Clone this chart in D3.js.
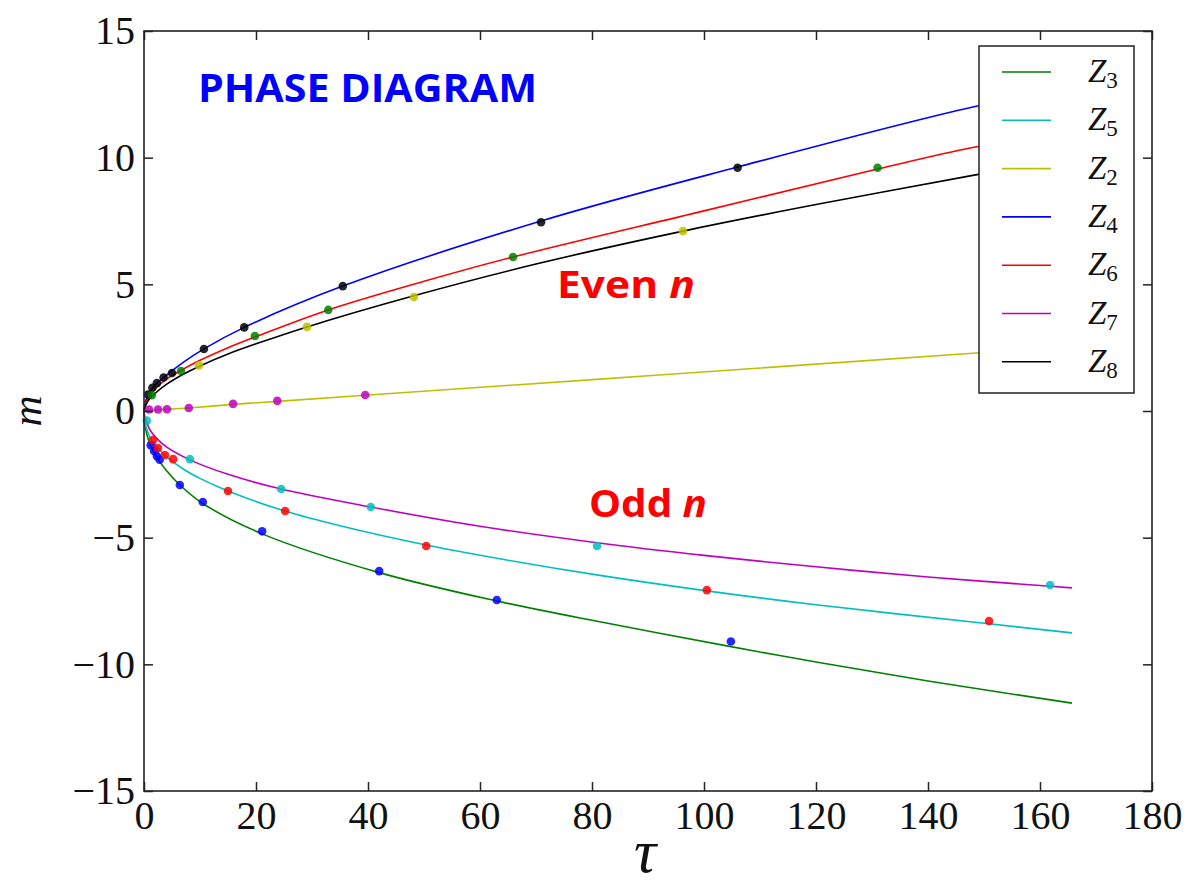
<!DOCTYPE html>
<html>
<head>
<meta charset="utf-8">
<script src="https://cdn.jsdelivr.net/npm/d3@7"></script>
<style>
  body { margin: 0; background: #fff; }
  svg { display: block; }
</style>
</head>
<body>
<div id="chart"></div>
<script>
// legend order and colours (matplotlib classic cycle)
const seriesNames = ['Z3', 'Z5', 'Z2', 'Z4', 'Z6', 'Z7', 'Z8'];
const lineColors = ['#008000', '#00bfbf', '#bfbf00', '#0000ff', '#ff0000', '#bf00bf', '#000000'];
// markers on each curve are drawn in a different colour than the curve
const dotColors = ['#0000ff', '#ff0000', '#bf00bf', '#000000', '#008000', '#00bfbf', '#bfbf00'];

// fitted curves: [tau, m]
const lineZ3 = [[0,0],[0.2,-0.6],[0.5,-0.92],[1,-1.27],[2,-1.73],[4,-2.35],[6.4,-2.92],[10.5,-3.65],[21.1,-4.85],[42,-6.38],[63,-7.5],[81.4,-8.32],[104.8,-9.3],[120,-9.91],[140,-10.66],[165.7,-11.53]];
const lineZ5 = [[0,0],[0.2,-0.45],[0.5,-0.72],[1,-1.0],[2,-1.34],[4,-1.8],[7,-2.29],[10,-2.66],[15,-3.16],[25.2,-3.95],[35,-4.53],[50.4,-5.29],[65,-5.89],[81.4,-6.49],[100.5,-7.1],[120,-7.65],[150.9,-8.4],[165.7,-8.76]];
const lineZ2 = [[0,0],[2,0.04],[8,0.12],[15.9,0.26],[23.8,0.38],[39.5,0.62],[81.4,1.26],[120,1.85],[148,2.28],[165.7,2.53]];
const lineZ4 = [[0,0],[0.3,0.4],[1,0.72],[2,1.02],[3.4,1.3],[5,1.58],[7,1.92],[10.7,2.45],[17.9,3.3],[35.5,4.93],[70.9,7.5],[106,9.63],[148,12.0],[165.7,12.75]];
const lineZ6 = [[0,0],[0.3,0.3],[1,0.6],[2,0.88],[4,1.26],[6.6,1.6],[10,2.0],[15,2.5],[19.8,2.92],[32.9,3.99],[50,5.12],[65.9,6.08],[100,7.9],[131,9.55],[148,10.4],[165.7,11.05]];
const lineZ7 = [[0,0],[0.2,-0.3],[0.5,-0.45],[1,-0.72],[2,-1.02],[4,-1.42],[8.2,-1.93],[15,-2.5],[24.5,-3.08],[40.5,-3.79],[60,-4.55],[80.9,-5.2],[100,-5.7],[120,-6.15],[140,-6.55],[161.8,-6.92],[165.7,-6.98]];
const lineZ8 = [[0,0],[0.3,0.22],[1,0.48],[2,0.7],[4,1.05],[7,1.45],[10,1.78],[15,2.25],[20,2.65],[29.1,3.32],[48.2,4.55],[70,5.8],[96.25,7.1],[120,8.15],[148,9.3],[165.7,10.0]];

// data points (markers)
const dotsZ3 = [[1.2,-1.35],[1.8,-1.58],[2.3,-1.78],[2.8,-1.92],[6.4,-2.92],[10.5,-3.59],[21.1,-4.75],[42,-6.32],[63,-7.46],[104.8,-9.1]];
const dotsZ5 = [[1.6,-1.15],[2.5,-1.46],[3.75,-1.74],[5.2,-1.9],[15,-3.16],[25.2,-3.95],[50.4,-5.33],[100.5,-7.07],[150.9,-8.29]];
const dotsZ2 = [[0.9,0.06],[2.5,0.06],[4.1,0.07],[8,0.12],[15.9,0.28],[23.8,0.4],[39.5,0.63]];
const dotsZ4 = [[0.7,0.65],[1.5,0.92],[2.3,1.1],[3.5,1.32],[5,1.5],[10.7,2.45],[17.9,3.3],[35.5,4.93],[70.9,7.45],[106,9.6]];
const dotsZ6 = [[1.4,0.62],[6.6,1.58],[19.8,2.96],[32.9,3.99],[65.9,6.08],[131,9.6]];
const dotsZ7 = [[0.5,-0.38],[8.2,-1.9],[24.5,-3.08],[40.5,-3.79],[80.9,-5.33],[161.8,-6.87]];
const dotsZ8 = [[9.8,1.8],[29.1,3.32],[48.2,4.5],[96.25,7.1]];

const lines = [lineZ3, lineZ5, lineZ2, lineZ4, lineZ6, lineZ7, lineZ8];
const dots = [dotsZ3, dotsZ5, dotsZ2, dotsZ4, dotsZ6, dotsZ7, dotsZ8];

const xTicks = [0, 20, 40, 60, 80, 100, 120, 140, 160, 180];
const yTicks = [-15, -10, -5, 0, 5, 10, 15];

const W = 1191, H = 890;
const margin = { left: 144, right: 39, top: 31, bottom: 99 };
const iw = W - margin.left - margin.right;
const ih = H - margin.top - margin.bottom;

const svg = d3.select('#chart').append('svg')
  .attr('width', W).attr('height', H)
  .style('background', '#fff');

const g = svg.append('g').attr('transform', `translate(${margin.left},${margin.top})`);

const x = d3.scaleLinear().domain([0, 180]).range([0, iw]);
const y = d3.scaleLinear().domain([-15, 15]).range([ih, 0]);

const serif = '"Liberation Serif", "DejaVu Serif", serif';

// curves
const line = d3.line().x(d => x(d[0])).y(d => y(d[1])).curve(d3.curveCatmullRom.alpha(0.5));
g.selectAll('.curve')
  .data(lines)
  .join('path')
  .attr('class', 'curve')
  .attr('d', line)
  .attr('fill', 'none')
  .attr('stroke', (d, i) => lineColors[i])
  .attr('stroke-width', 1.6);

// markers
dots.forEach((pts, i) => {
  g.selectAll('.dot' + i)
    .data(pts)
    .join('circle')
    .attr('class', 'dot' + i)
    .attr('cx', d => x(d[0]))
    .attr('cy', d => y(d[1]))
    .attr('r', 4.3)
    .attr('fill', dotColors[i])
    .attr('fill-opacity', 0.85);
});

// axes: ticks inward on all four sides
const styleAxis = sel => {
  sel.select('.domain').remove();
  sel.selectAll('line').attr('stroke', '#222').attr('stroke-width', 1.5);
  sel.selectAll('text').attr('font-family', serif).attr('font-size', 40).attr('fill', '#111');
};
g.append('g').attr('transform', `translate(0,${ih})`)
  .call(d3.axisBottom(x).tickValues(xTicks).tickSizeInner(-9).tickSizeOuter(0).tickPadding(10))
  .call(styleAxis);
g.append('g')
  .call(d3.axisLeft(y).tickValues(yTicks).tickSizeInner(-9).tickSizeOuter(0).tickPadding(9))
  .call(styleAxis);
g.append('g')
  .call(d3.axisTop(x).tickValues(xTicks).tickSizeInner(-9).tickSizeOuter(0).tickFormat(''))
  .call(styleAxis);
g.append('g').attr('transform', `translate(${iw},0)`)
  .call(d3.axisRight(y).tickValues(yTicks).tickSizeInner(-9).tickSizeOuter(0).tickFormat(''))
  .call(styleAxis);

// frame
g.append('rect')
  .attr('width', iw).attr('height', ih)
  .attr('fill', 'none').attr('stroke', '#222').attr('stroke-width', 1.6);

// axis titles
svg.append('text')
  .attr('transform', `translate(41,${margin.top + y(0)}) rotate(-90)`)
  .attr('text-anchor', 'middle')
  .attr('font-family', serif).attr('font-style', 'italic').attr('font-size', 43)
  .attr('fill', '#111')
  .text('m');
svg.append('text')
  .attr('x', margin.left + x(90) - 3).attr('y', 872)
  .attr('text-anchor', 'middle')
  .attr('font-family', serif).attr('font-style', 'italic').attr('font-size', 62)
  .attr('fill', '#111')
  .text('τ');

// annotations
const sans = '"Open Sans", "Noto Sans", sans-serif';
svg.append('text')
  .attr('x', 198).attr('y', 102)
  .attr('font-family', sans).attr('font-weight', 700).attr('font-size', 40)
  .attr('textLength', 339).attr('lengthAdjust', 'spacingAndGlyphs')
  .attr('fill', '#0000ff')
  .text('PHASE DIAGRAM');

const even = svg.append('text')
  .attr('x', 557).attr('y', 298)
  .attr('font-family', sans).attr('font-weight', 700).attr('font-size', 38)
  .attr('textLength', 138).attr('lengthAdjust', 'spacingAndGlyphs')
  .attr('fill', '#ff0000');
even.append('tspan').text('Even ');
even.append('tspan').attr('font-style', 'italic').text('n');

const odd = svg.append('text')
  .attr('x', 589).attr('y', 517)
  .attr('font-family', sans).attr('font-weight', 700).attr('font-size', 38)
  .attr('textLength', 118).attr('lengthAdjust', 'spacingAndGlyphs')
  .attr('fill', '#ff0000');
odd.append('tspan').text('Odd ');
odd.append('tspan').attr('font-style', 'italic').text('n');

// legend
const leg = svg.append('g').attr('transform', 'translate(979,46)');
leg.append('rect')
  .attr('width', 155).attr('height', 347)
  .attr('fill', '#fff').attr('stroke', '#222').attr('stroke-width', 1.5);
const rows = leg.selectAll('.row')
  .data(seriesNames)
  .join('g')
  .attr('class', 'row')
  .attr('transform', (d, i) => `translate(0,${26 + i * 48.3})`);
rows.append('line')
  .attr('x1', 23).attr('x2', 72)
  .attr('stroke', (d, i) => lineColors[i]).attr('stroke-width', 1.6);
const lab = rows.append('text')
  .attr('x', 109).attr('y', 10)
  .attr('font-family', serif).attr('fill', '#111');
lab.append('tspan').attr('font-style', 'italic').attr('font-size', 33).text('Z');
lab.append('tspan').attr('font-size', 23).attr('dy', 6).text(d => d.slice(1));
</script>
</body>
</html>
